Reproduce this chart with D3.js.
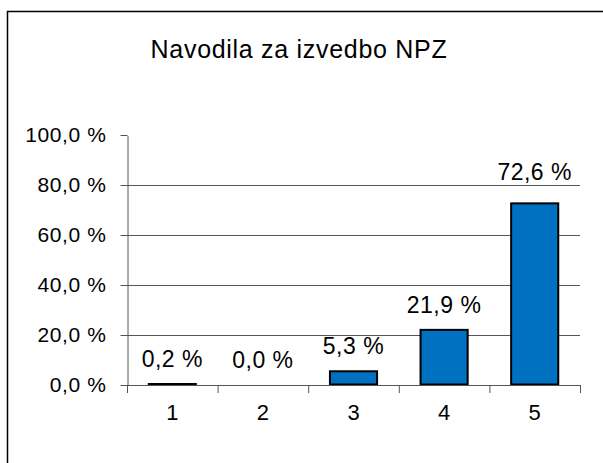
<!DOCTYPE html>
<html>
<head>
<meta charset="utf-8">
<script src="https://cdn.jsdelivr.net/npm/d3@7"></script>
<style>
  body { margin: 0; background: #fff; }
  text { font-family: "Liberation Sans", Arial, sans-serif; fill: #000; }
</style>
</head>
<body>
<div id="chart"></div>
<script>
const categories = ["1", "2", "3", "4", "5"];
const values = [0.2, 0.0, 5.3, 21.9, 72.6];
const yTicks = [0, 20, 40, 60, 80, 100];
const title = "Navodila za izvedbo NPZ";

const width = 603, height = 463;
const plot = {left: 127, right: 580, top: 135, bottom: 384.5};

const fmt = d => d.toFixed(1).replace(".", ",") + " %";

const svg = d3.select("#chart").append("svg")
  .attr("width", width)
  .attr("height", height);

// outer frame (runs off the right and bottom edge)
svg.append("rect")
  .attr("x", 7.5).attr("y", 11.5)
  .attr("width", 700).attr("height", 600)
  .attr("fill", "none")
  .attr("stroke", "#000")
  .attr("stroke-width", 1.5);

svg.append("text")
  .attr("x", 299).attr("y", 58)
  .attr("text-anchor", "middle")
  .style("font-size", "25px")
  .style("letter-spacing", "0.7px")
  .text(title);

const y = d3.scaleLinear().domain([0, 100]).range([plot.bottom, plot.top]);
const x = d3.scaleBand().domain(categories)
  .range([plot.left, plot.right])
  .paddingInner(0.48).paddingOuter(0.24);

// gridlines
svg.append("g")
  .selectAll("line")
  .data(yTicks.filter(d => d > 0 && d < 100))
  .enter().append("line")
  .attr("x1", plot.left).attr("x2", plot.right)
  .attr("y1", d => Math.round(y(d)) + 0.5)
  .attr("y2", d => Math.round(y(d)) + 0.5)
  .attr("stroke", "#555")
  .attr("stroke-width", 1);

// y axis
const yAxis = svg.append("g")
  .attr("transform", "translate(" + (plot.left + 0.5) + ",0.5)")
  .call(d3.axisLeft(y).tickValues(yTicks).tickFormat(fmt).tickSize(7).tickSizeOuter(0).tickPadding(14));
yAxis.select(".domain").attr("stroke", "#555");
yAxis.selectAll(".tick line").attr("stroke", "#555");
yAxis.selectAll("text")
  .style("font-size", "21px")
  .style("letter-spacing", "0.6px")
  .attr("fill", "#000");
yAxis.selectAll(".tick").attr("transform", d => "translate(0," + Math.round(y(d)) + ")");

// bars
svg.append("g")
  .selectAll("rect")
  .data(values)
  .enter().append("rect")
  .attr("x", (d, i) => x(categories[i]))
  .attr("y", d => y(d))
  .attr("width", x.bandwidth())
  .attr("height", d => y(0) - y(d))
  .attr("fill", "#0070C0")
  .attr("stroke", "#000")
  .attr("stroke-width", 2);

// x axis line and boundary ticks
const xg = svg.append("g");
xg.append("line")
  .attr("x1", plot.left).attr("x2", plot.right)
  .attr("y1", Math.round(y(0)) + 0.5).attr("y2", Math.round(y(0)) + 0.5)
  .attr("stroke", "#555");
xg.selectAll(".bt")
  .data(d3.range(categories.length + 1))
  .enter().append("line")
  .attr("x1", i => plot.left + i * x.step() + 0.5)
  .attr("x2", i => plot.left + i * x.step() + 0.5)
  .attr("y1", Math.round(y(0)))
  .attr("y2", Math.round(y(0)) + 8)
  .attr("stroke", "#555");

const xAxis = svg.append("g")
  .attr("transform", "translate(0," + Math.round(y(0)) + ")")
  .call(d3.axisBottom(x).tickSize(0).tickPadding(19));
xAxis.select(".domain").remove();
xAxis.selectAll("text")
  .style("font-size", "22px")
  .attr("fill", "#000");

// value labels; nudged above a gridline they would otherwise cross
const labelY = d => {
  let base = y(d) - 17;
  yTicks.forEach(t => {
    const gy = y(t);
    if (t > 0 && t < 100 && base > gy - 2 && base - 16 < gy) base = gy - 5;
  });
  return base;
};
svg.append("g")
  .selectAll("text")
  .data(values)
  .enter().append("text")
  .attr("x", (d, i) => x(categories[i]) + x.bandwidth() / 2)
  .attr("y", labelY)
  .attr("text-anchor", "middle")
  .style("font-size", "23px")
  .style("letter-spacing", "0.5px")
  .text(fmt);
</script>
</body>
</html>
